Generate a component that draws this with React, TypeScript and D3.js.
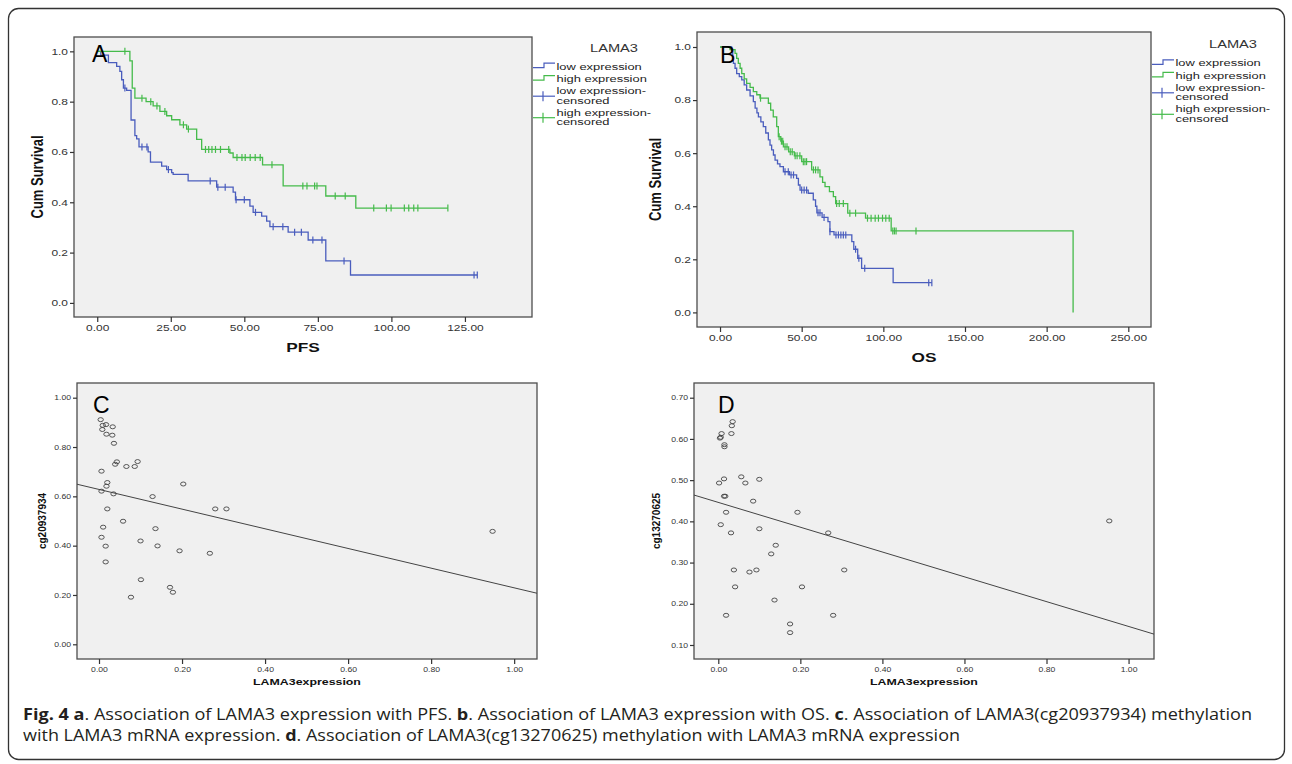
import React, { useRef, useEffect } from "react";
import * as d3 from "d3";

const W = 1292;
const H = 764;
const FONT = "'Liberation Sans', Arial, sans-serif";
const SX = 1.33; // the SPSS output is stretched sideways

// ---- panel A : PFS ----
const pfsLowTime = [0, 1.2, 3.8, 6.6, 7.7, 8.3, 8.9, 10.0, 11.5, 12.8, 13.4, 14.2, 17.3, 18.1, 21.9, 23.6, 25.3, 25.8, 30.9, 40.6, 46.2, 47.0, 51.9, 53.0, 55.9, 57.6, 58.7, 64.9, 71.7, 77.7, 86.1];
const pfsLowSurv = [1.0, 0.985, 0.955, 0.94, 0.92, 0.887, 0.854, 0.845, 0.727, 0.665, 0.652, 0.62, 0.6, 0.56, 0.544, 0.53, 0.518, 0.511, 0.485, 0.46, 0.44, 0.41, 0.385, 0.36, 0.345, 0.325, 0.303, 0.281, 0.25, 0.167, 0.111];
const pfsLowCens = [9.4, 15.2, 16.9, 24.2, 38.4, 41.0, 43.5, 47.2, 50.0, 53.8, 59.8, 63.1, 67.1, 69.4, 73.3, 76.4, 83.9, 128.1, 129.2];
const pfsHighTime = [0, 11.1, 11.9, 12.8, 16.6, 19.0, 21.3, 23.6, 25.3, 28.1, 30.4, 33.8, 35.5, 45.1, 46.2, 56.2, 63.2, 77.7, 87.9];
const pfsHighSurv = [1.0, 0.962, 0.854, 0.814, 0.8, 0.783, 0.761, 0.744, 0.728, 0.708, 0.691, 0.65, 0.61, 0.596, 0.578, 0.549, 0.465, 0.425, 0.377];
const pfsHighCens = [9.4, 15.2, 18.2, 20.3, 23.0, 29.3, 31.0, 36.8, 37.9, 39.0, 40.2, 41.9, 44.7, 47.5, 49.2, 50.3, 52.0, 53.7, 55.4, 59.4, 69.9, 71.3, 73.9, 74.7, 80.9, 84.3, 94.0, 98.3, 99.9, 104.4, 105.9, 107.6, 109.0, 119.2];
const pfsTicks = [0, 25, 50, 75, 100, 125];

// ---- panel B : OS ----
const osLowTime = [0, 7.1, 7.8, 8.2, 9.2, 10.2, 11.8, 13.3, 14.8, 16.3, 18.4, 20.4, 21.5, 22.6, 23.5, 25.0, 26.5, 28.0, 29.6, 30.6, 31.6, 32.7, 33.7, 35.2, 36.7, 38.8, 42.5, 46.9, 48.0, 49.0, 54.0, 57.1, 58.5, 59.3, 62.5, 66.1, 67.3, 69.8, 80.7, 81.9, 84.3, 86.7, 106.0];
const osLowSurv = [1.0, 0.989, 0.965, 0.938, 0.92, 0.9, 0.888, 0.876, 0.857, 0.838, 0.816, 0.794, 0.77, 0.752, 0.737, 0.718, 0.7, 0.676, 0.65, 0.63, 0.612, 0.593, 0.574, 0.56, 0.549, 0.53, 0.518, 0.505, 0.48, 0.461, 0.449, 0.424, 0.4, 0.375, 0.358, 0.342, 0.304, 0.292, 0.267, 0.238, 0.204, 0.166, 0.112];
const osLowCens = [39.8, 41.8, 43.5, 45.0, 50.0, 51.5, 53.0, 60.0, 61.2, 63.7, 67.3, 71.0, 72.5, 74.0, 75.5, 77.0, 83.0, 85.0, 88.6, 127.8, 129.7];
const osHighTime = [0, 6.1, 9.2, 10.2, 11.2, 12.3, 13.3, 14.8, 16.3, 18.4, 20.4, 22.5, 24.5, 29.6, 31.0, 32.6, 34.7, 35.7, 37.2, 38.8, 42.0, 45.5, 50.0, 56.1, 61.2, 62.8, 64.3, 67.0, 69.4, 70.8, 78.2, 89.1, 104.8, 216.2];
const osHighSurv = [1.0, 0.99, 0.976, 0.957, 0.938, 0.92, 0.9, 0.88, 0.863, 0.848, 0.832, 0.82, 0.807, 0.788, 0.762, 0.737, 0.7, 0.662, 0.645, 0.624, 0.605, 0.59, 0.568, 0.537, 0.511, 0.49, 0.474, 0.455, 0.436, 0.41, 0.374, 0.355, 0.307, 0.0];
const osHighCens = [24.8, 36.2, 37.6, 38.4, 39.8, 41.0, 43.0, 44.2, 46.0, 47.2, 48.9, 51.0, 52.0, 53.0, 57.2, 58.5, 60.0, 71.4, 73.0, 75.5, 79.5, 83.0, 90.3, 92.5, 95.0, 97.0, 99.5, 101.5, 103.6, 105.8, 106.8, 107.8, 120.0];
const osTicks = [0, 50, 100, 150, 200, 250];
const survTicks = [0, 0.2, 0.4, 0.6, 0.8, 1.0];
const legendTitle = "LAMA3";
const legendLabels = [["low expression"], ["high expression"], ["low expression-", "censored"], ["high expression-", "censored"]];

// ---- panel C : cg20937934 ----
const exprC = [0.004, 0.009, 0.017, 0.008, 0.033, 0.018, 0.032, 0.036, 0.043, 0.039, 0.066, 0.086, 0.093, 0.006, 0.02, 0.018, 0.006, 0.035, 0.203, 0.129, 0.02, 0.28, 0.307, 0.058, 0.01, 0.136, 0.006, 0.1, 0.016, 0.141, 0.194, 0.267, 0.016, 0.101, 0.171, 0.178, 0.077, 0.948];
const cgC = [0.911, 0.888, 0.891, 0.871, 0.882, 0.852, 0.848, 0.815, 0.74, 0.73, 0.721, 0.721, 0.741, 0.702, 0.656, 0.641, 0.621, 0.61, 0.65, 0.599, 0.549, 0.549, 0.549, 0.499, 0.475, 0.469, 0.434, 0.419, 0.398, 0.399, 0.379, 0.369, 0.334, 0.262, 0.231, 0.211, 0.191, 0.458];
const fitC = [0.628, -0.399];
const cgCTicks = [0, 0.2, 0.4, 0.6, 0.8, 1.0];

// ---- panel D : cg13270625 ----
const exprD = [0.035, 0.033, 0.032, 0.008, 0.006, 0.004, 0.015, 0.015, 0.014, 0.002, 0.056, 0.066, 0.1, 0.014, 0.017, 0.085, 0.019, 0.193, 0.006, 0.031, 0.1, 0.268, 0.14, 0.129, 0.038, 0.076, 0.093, 0.307, 0.041, 0.204, 0.137, 0.019, 0.28, 0.175, 0.175, 0.953];
const cgD = [0.642, 0.632, 0.613, 0.613, 0.604, 0.602, 0.586, 0.581, 0.503, 0.493, 0.508, 0.493, 0.502, 0.461, 0.461, 0.449, 0.422, 0.422, 0.392, 0.372, 0.382, 0.372, 0.342, 0.321, 0.282, 0.277, 0.282, 0.282, 0.241, 0.241, 0.209, 0.172, 0.172, 0.151, 0.13, 0.401];
const fitD = [0.446, -0.301];
const cgDTicks = [0.1, 0.2, 0.3, 0.4, 0.5, 0.6, 0.7];
const exprTicks = [0, 0.2, 0.4, 0.6, 0.8, 1.0];

const BLUE = "#4a5dbd";
const GREEN = "#45bb4b";

function stepAt(times, surv, t) {
  const i = d3.bisectRight(times, t) - 1;
  return surv[Math.max(i, 0)];
}

function frame(g, f) {
  g.append("rect")
    .attr("x", f.left).attr("y", f.top)
    .attr("width", f.right - f.left).attr("height", f.bottom - f.top)
    .attr("fill", "#f0f0f0").attr("stroke", "#4d4d4d").attr("stroke-width", 1.3);
}

function stext(g, x, y, str, size, opts: any = {}) {
  const sx = opts.sx ?? SX;
  return g.append("text")
    .attr("transform", `translate(${x},${y}) scale(${sx},1)${opts.rot ? " rotate(-90)" : ""}`)
    .attr("font-family", FONT)
    .attr("font-size", size)
    .attr("font-weight", opts.bold ? "bold" : "normal")
    .attr("text-anchor", opts.anchor ?? "start")
    .attr("fill", opts.fill ?? "#222")
    .text(str);
}

function axes(g, f, x, y, xt, yt, xfmt, yfmt, fs) {
  const ax = g.append("g").attr("transform", `translate(0,${f.bottom})`)
    .call(d3.axisBottom(x).tickValues(xt).tickFormat(d3.format(xfmt)).tickSize(5).tickPadding(3));
  const ay = g.append("g").attr("transform", `translate(${f.left},0)`)
    .call(d3.axisLeft(y).tickValues(yt).tickFormat(d3.format(yfmt)).tickSize(4).tickPadding(2));
  [ax, ay].forEach((a) => {
    a.select(".domain").remove();
    a.attr("font-family", FONT).attr("font-size", fs);
    a.selectAll("line").attr("stroke", "#333").attr("stroke-width", 1.2);
    a.selectAll("text").attr("fill", "#333").attr("transform", `scale(${SX},1)`);
  });
  ay.selectAll("text").attr("x", -6 / SX);
}

function legend(g, x0, base) {
  stext(g, x0 + 57, base, legendTitle, 11, { fill: "#333" });
  const offs = [18, 30.5, 42.5, 64];
  const colors = [BLUE, GREEN, BLUE, GREEN];
  legendLabels.forEach((lines, i) => {
    const b = base + offs[i];
    const c = colors[i];
    if (i < 2) {
      g.append("path")
        .attr("d", `M${x0},${b - 2}H${x0 + 11}V${b - 6.5}H${x0 + 22}`)
        .attr("fill", "none").attr("stroke", c).attr("stroke-width", 1.2);
    } else {
      g.append("line").attr("x1", x0).attr("x2", x0 + 22).attr("y1", b + 2).attr("y2", b + 2)
        .attr("stroke", c).attr("stroke-width", 1.2);
      g.append("line").attr("x1", x0 + 10).attr("x2", x0 + 10).attr("y1", b - 3).attr("y2", b + 7)
        .attr("stroke", c).attr("stroke-width", 1.2);
    }
    lines.forEach((s, j) => stext(g, x0 + 23.5, b + j * 9.5, s, 9.7, { fill: "#222" }));
  });
}

function kmPanel(svg, p) {
  const f = p.frame;
  const g = svg.append("g");
  const x = d3.scaleLinear().domain(p.xDomain).range([f.left, f.right]);
  const y = d3.scaleLinear().domain(p.yDomain).range([f.bottom, f.top]);
  frame(g, f);
  axes(g, f, x, y, p.xTicks, survTicks, ".2f", ".1f", 9);
  const line = d3.line().x((d) => x(d[0])).y((d) => y(d[1])).curve(d3.curveStepAfter);
  p.curves.forEach((c) => {
    const pts = c.time.map((t, i) => [t, c.surv[i]]);
    const end = d3.max(c.cens) ?? 0;
    if (end > c.time[c.time.length - 1]) pts.push([end, c.surv[c.surv.length - 1]]);
    g.append("path").attr("d", line(pts)).attr("fill", "none")
      .attr("stroke", c.color).attr("stroke-width", 1.3);
    c.cens.forEach((t) => {
      const s = stepAt(c.time, c.surv, t);
      g.append("line").attr("x1", x(t)).attr("x2", x(t))
        .attr("y1", y(s) - 3.5).attr("y2", y(s) + 3.5)
        .attr("stroke", c.color).attr("stroke-width", 1.2);
    });
  });
  g.append("text").attr("x", p.letter[0]).attr("y", p.letter[1])
    .attr("font-family", FONT).attr("font-size", 23).attr("fill", "#000").text(p.letterText);
  stext(g, p.yTitleX, (f.top + f.bottom) / 2, "Cum Survival", 13, { bold: true, rot: true, anchor: "middle", fill: "#111" });
  stext(g, (f.left + f.right) / 2, p.xTitleY, p.xTitle, 13, { bold: true, anchor: "middle", fill: "#111" });
  legend(g, f.right + 1, p.legendBase);
}

function scatterPanel(svg, p) {
  const f = p.frame;
  const g = svg.append("g");
  const x = d3.scaleLinear().domain(p.xDomain).range([f.left, f.right]);
  const y = d3.scaleLinear().domain(p.yDomain).range([f.bottom, f.top]);
  frame(g, f);
  axes(g, f, x, y, exprTicks, p.yTicks, ".2f", ".2f", 6.5);
  const [a, b] = p.fit;
  g.append("line")
    .attr("x1", x(p.xDomain[0])).attr("y1", y(a + b * p.xDomain[0]))
    .attr("x2", x(p.xDomain[1])).attr("y2", y(a + b * p.xDomain[1]))
    .attr("stroke", "#444").attr("stroke-width", 1);
  g.selectAll(".pt").data(p.xs).join("ellipse")
    .attr("cx", (d) => x(d)).attr("cy", (d, i) => y(p.ys[i]))
    .attr("rx", 2.7).attr("ry", 2.0)
    .attr("fill", "none").attr("stroke", "#444").attr("stroke-width", 0.9);
  g.append("text").attr("x", p.letter[0]).attr("y", p.letter[1])
    .attr("font-family", FONT).attr("font-size", 23).attr("fill", "#000").text(p.letterText);
  stext(g, p.yTitleX, (f.top + f.bottom) / 2, p.yTitle, 10, { bold: true, rot: true, anchor: "middle", fill: "#111", sx: 1 });
  stext(g, (f.left + f.right) / 2, 685, "LAMA3expression", 9.3, { bold: true, anchor: "middle", fill: "#111" });
}

function caption(svg) {
  const lines = [
    { y: 720, len: 1229, parts: [["Fig. 4", true], [" ", false], ["a", true], [". Association of LAMA3 expression with PFS. ", false], ["b", true], [". Association of LAMA3 expression with OS. ", false], ["c", true], [". Association of LAMA3(cg20937934) methylation", false]] },
    { y: 741, len: 937, parts: [["with LAMA3 mRNA expression. ", false], ["d", true], [". Association of LAMA3(cg13270625) methylation with LAMA3 mRNA expression", false]] },
  ];
  lines.forEach((l) => {
    const t = svg.append("text").attr("x", 23).attr("y", l.y)
      .attr("font-family", "'Open Sans', 'Noto Sans', sans-serif").attr("font-size", 16)
      .attr("fill", "#231f20").attr("textLength", l.len).attr("lengthAdjust", "spacingAndGlyphs")
      .style("white-space", "pre");
    l.parts.forEach(([s, bold]) => t.append("tspan").attr("font-weight", bold ? "bold" : "normal").text(s));
  });
}

function App() {
  const svgRef = useRef(null);

  useEffect(() => {
    const svg = d3.select(svgRef.current);
    svg.selectAll("*").remove();

    svg.append("rect").attr("x", 8.5).attr("y", 8.5).attr("width", 1276).attr("height", 751)
      .attr("rx", 10).attr("fill", "#fff").attr("stroke", "#333").attr("stroke-width", 1.3);

    kmPanel(svg, {
      frame: { left: 74, right: 532, top: 37, bottom: 317 },
      xDomain: [-7.9, 147.8], yDomain: [-0.056, 1.057], xTicks: pfsTicks,
      curves: [
        { time: pfsLowTime, surv: pfsLowSurv, cens: pfsLowCens, color: BLUE },
        { time: pfsHighTime, surv: pfsHighSurv, cens: pfsHighCens, color: GREEN },
      ],
      letter: [92, 62], letterText: "A", yTitleX: 43, xTitle: "PFS", xTitleY: 352, legendBase: 51.7,
    });
    kmPanel(svg, {
      frame: { left: 697, right: 1151, top: 32, bottom: 327 },
      xDomain: [-14.1, 263.9], yDomain: [-0.055, 1.0565], xTicks: osTicks,
      curves: [
        { time: osLowTime, surv: osLowSurv, cens: osLowCens, color: BLUE },
        { time: osHighTime, surv: osHighSurv, cens: osHighCens, color: GREEN },
      ],
      letter: [720, 63], letterText: "B", yTitleX: 661, xTitle: "OS", xTitleY: 362, legendBase: 48.3,
    });
    scatterPanel(svg, {
      frame: { left: 77, right: 537, top: 383, bottom: 659 },
      xDomain: [-0.053, 1.055], yDomain: [-0.0596, 1.0596], yTicks: cgCTicks,
      xs: exprC, ys: cgC, fit: fitC, letter: [93, 413], letterText: "C",
      yTitle: "cg20937934", yTitleX: 46,
    });
    scatterPanel(svg, {
      frame: { left: 694, right: 1154, top: 383, bottom: 659 },
      xDomain: [-0.0592, 1.062], yDomain: [0.066, 0.7357], yTicks: cgDTicks,
      xs: exprD, ys: cgD, fit: fitD, letter: [718, 413], letterText: "D",
      yTitle: "cg13270625", yTitleX: 660,
    });
    caption(svg);
  }, []);

  return (
    <svg ref={svgRef} width={W} height={H}
      style={{ position: "absolute", left: 0, top: 0, background: "#fff" }} />
  );
}

export default App;
